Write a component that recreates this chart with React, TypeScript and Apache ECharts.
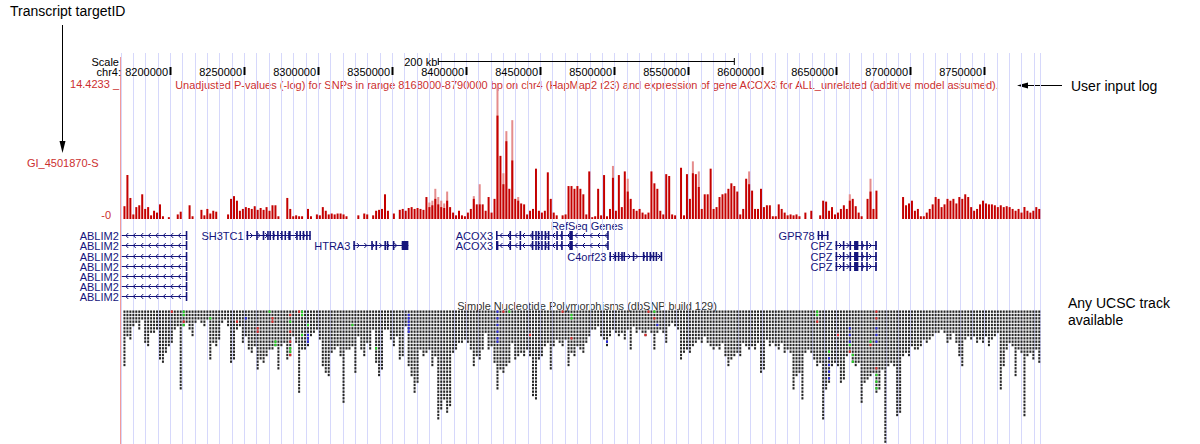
import React, { useEffect, useRef } from "react";
import * as echarts from "echarts";

const FONT = "'Liberation Sans', Arial, Helvetica, sans-serif";
const RED = "#cc2f2f";
const BAR_DARK = "#c40000";
const BAR_LIGHT = "#e58c8c";
const NAVY = "#14147c";
const GUIDE_COLOR = "#d6d8fb";
const SNP_COLOR = "#262626";

// ---- genome window (bp) ----
const GUIDE_BP = 25000 / 3;
const X_MIN = 980 * GUIDE_BP;
const GUIDE_COUNT = 74.5;
const X_MAX = X_MIN + GUIDE_COUNT * GUIDE_BP;

// ---- ruler ----
const positionTicks = [8200000, 8250000, 8300000, 8350000, 8400000, 8450000, 8500000, 8550000, 8600000, 8650000, 8700000, 8750000];
const scaleBar = [8381000, 8581000];
const scaleBarLabel = "200 kb";

// ---- p-value wiggle track (fixed step) ----
const pvalStart = 8168000;
const pvalStep = 2000;
const pvalTop = 14.4233;
const pvalMean = [
  1.4, 4.8, 2.3, 0.5, 1.3, 1.5, 2.7, 1.1, 1.3, 0.4,
  0.9, 0.7, 1.6, 0.3, 0, 0.2, 0, 0, 0.5, 0.8,
  0, 0, 1.5, 0.3, 0, 0, 1.0, 0.4, 1.1, 0.6,
  0.9, 0.8, 0, 0, 0, 0.5, 2.2, 2.5, 2.0, 0.9,
  1.1, 1.3, 1.2, 1.1, 1.4, 1.0, 1.2, 1.0, 1.3, 0.9,
  1.5, 1.5, 0.3, 0, 0, 2.3, 1.1, 0.3, 0.4, 0.3,
  0.3, 0, 1.1, 0.3, 0, 0.5, 0.4, 1.3, 0.9, 0.5,
  0.6, 0.5, 0.6, 0.6, 0.5, 0.3, 0, 0, 0, 0.4,
  0, 0.6, 0.5, 0, 0.4, 0.9, 1.0, 1.1, 2.7, 0.9,
  0, 0.6, 0, 1.0, 1.1, 0.9, 1.2, 1.3, 1.1, 1.2,
  1.1, 1.0, 2.4, 1.3, 1.5, 2.2, 1.6, 1.3, 1.2, 2.0,
  1.3, 0.7, 0.4, 0.9, 0.4, 0.3, 0.7, 1.1, 2.2, 1.6,
  1.6, 1.6, 0.9, 2.4, 0.7, 2.2, 11.3, 6.9, 3.8, 8.5,
  3.3, 6.4, 2.2, 2.0, 1.7, 1.6, 0.5, 0.9, 1.1, 5.5,
  0.9, 0.7, 0.9, 5.1, 2.2, 0.7, 0.4, 0, 0.4, 0.5,
  3.6, 3.6, 3.3, 3.6, 3.3, 2.7, 0.5, 5.2, 0.2, 0.3,
  3.3, 0.4, 4.8, 0.3, 1.1, 4.5, 0.9, 4.8, 1.3, 5.2,
  3.0, 2.2, 1.1, 0.9, 1.1, 0.7, 0.5, 0.7, 5.2, 3.9,
  3.3, 0.9, 0.5, 4.9, 4.7, 0.5, 0.4, 0, 5.6, 0.4,
  4.9, 2.2, 5.0, 4.9, 3.5, 1.1, 2.7, 2.7, 5.5, 1.1,
  1.3, 2.4, 2.7, 2.8, 3.3, 3.9, 3.6, 3.0, 0.5, 1.1,
  4.4, 3.8, 3.1, 1.1, 1.1, 3.3, 1.3, 1.5, 1.5, 0.3,
  0.3, 1.6, 1.1, 0.7, 0.4, 0.5, 0.4, 0.5, 0.3, 0,
  0.7, 0, 0.9, 0, 0, 0.4, 2.0, 1.9, 0.9, 1.3,
  0.5, 0.7, 1.1, 1.5, 1.1, 2.0, 2.2, 1.4, 0.7, 0.3,
  0, 2.2, 3.0, 1.1, 3.1, 0, 0, 0, 0, 0,
  0, 0, 0, 2.4, 1.5, 1.7, 2.0, 0.9, 1.1, 0.3,
  0.3, 0.7, 1.1, 1.6, 2.4, 2.2, 1.3, 1.6, 2.2, 2.0,
  2.2, 1.7, 2.4, 2.2, 2.7, 2.4, 1.3, 0.9, 1.1, 1.6,
  2.0, 1.7, 1.6, 1.6, 1.5, 1.3, 1.5, 1.3, 1.4, 1.3,
  1.1, 0.9, 1.1, 0.7, 1.3, 0.9, 0.7, 0.9, 1.3, 1.1, 0,
];
// bins whose maximum rises above the mean (lighter top)
const pvalMaxBins = [
  [103, 1.8], [104, 2.0], [105, 3.3], [106, 2.4], [107, 2.0], [108, 1.7], [109, 3.0],
  [118, 2.5], [120, 3.8], [126, 14.42], [128, 5.0], [129, 9.6], [131, 10.8], [133, 2.4],
  [165, 5.8], [170, 4.4], [192, 6.3], [194, 5.2], [211, 5.2], [245, 2.7], [252, 4.4],
];

// ---- RefSeq genes (kb) ----
const geneNames = ["ABLIM2", "ABLIM2", "ABLIM2", "ABLIM2", "ABLIM2", "ABLIM2", "ABLIM2", "SH3TC1", "HTRA3", "ACOX3", "ACOX3", "C4orf23", "GPR78", "CPZ", "CPZ", "CPZ"];
const geneRows = [0, 1, 2, 3, 4, 5, 6, 0, 1, 0, 1, 2, 0, 1, 2, 3];
const geneStrand = ["-", "-", "-", "-", "-", "-", "-", "+", "+", "-", "-", "+", "+", "+", "+", "+"];
const geneStartKb = [8167.2, 8167.2, 8167.2, 8167.2, 8167.2, 8167.2, 8167.2, 8251.5, 8323.6, 8420.0, 8420.0, 8496.6, 8637.3, 8649.4, 8649.4, 8649.4];
const geneEndKb = [8211.3, 8211.3, 8211.3, 8211.3, 8211.3, 8211.3, 8211.3, 8294.6, 8360.8, 8495.9, 8495.9, 8532.0, 8644.6, 8677.3, 8677.3, 8677.3];
const ablim2Exons = [[8210.4, 8211.3]];
const acox3Exons = [[8420.0, 8420.9], [8429.1, 8429.9], [8435.9, 8436.7], [8444.2, 8445.2], [8446.5, 8447.3], [8448.2, 8449.0], [8450.5, 8451.3], [8452.8, 8453.6], [8455.0, 8455.8], [8460.7, 8461.5], [8464.0, 8464.8], [8469.6, 8471.9], [8495.1, 8495.9]];
const cpzExons = [[8649.4, 8650.2], [8654.3, 8655.1], [8658.8, 8659.6], [8661.9, 8664.8], [8666.7, 8667.5], [8670.1, 8670.9], [8676.1, 8677.3]];
const geneExonsKb = [
  ablim2Exons, ablim2Exons, ablim2Exons, ablim2Exons, ablim2Exons, ablim2Exons, ablim2Exons,
  [[8251.5, 8252.3], [8258.0, 8258.8], [8262.4, 8263.2], [8265.4, 8266.2], [8266.9, 8267.7], [8269.2, 8270.0], [8272.1, 8272.9], [8274.8, 8275.6], [8277.1, 8277.9], [8279.7, 8281.3], [8285.0, 8285.8], [8287.2, 8288.0], [8289.4, 8290.2], [8291.7, 8292.5], [8293.8, 8294.6]],
  [[8323.6, 8324.4], [8335.7, 8336.5], [8338.6, 8339.4], [8344.6, 8345.4], [8346.2, 8347.0], [8350.3, 8351.1], [8356.3, 8360.8]],
  acox3Exons,
  [[8420.0, 8421.6], ...acox3Exons.slice(1)],
  [[8496.6, 8497.4], [8500.1, 8500.9], [8502.3, 8503.1], [8504.6, 8505.4], [8506.1, 8506.9], [8512.4, 8513.2], [8519.2, 8520.0], [8521.5, 8522.3], [8523.7, 8524.5], [8525.9, 8526.7], [8527.8, 8528.6], [8531.2, 8532.0]],
  [[8637.3, 8638.1], [8639.7, 8640.5], [8643.5, 8644.6]],
  cpzExons, cpzExons, cpzExons,
];

// ---- dbSNP 129: stacked SNPs per 2 kb bin (rows) ----
const snpDepth = [
  17, 8, 9, 5, 4, 6, 3, 10, 11, 7,
  7, 6, 15, 16, 13, 11, 10, 6, 5, 24,
  5, 4, 6, 8, 4, 3, 4, 5, 3, 15,
  10, 11, 9, 4, 3, 5, 16, 15, 6, 5,
  10, 8, 12, 13, 11, 18, 15, 16, 14, 12,
  12, 11, 18, 11, 10, 15, 14, 8, 10, 25,
  12, 12, 11, 8, 7, 6, 9, 17, 19, 20,
  13, 12, 11, 14, 28, 12, 12, 11, 19, 8,
  12, 14, 10, 12, 6, 16, 20, 18, 6, 6,
  9, 11, 8, 15, 14, 5, 17, 20, 25, 22,
  12, 14, 13, 12, 17, 14, 33, 30, 27, 31,
  29, 13, 12, 10, 10, 9, 10, 12, 17, 14,
  15, 12, 7, 12, 11, 16, 24, 18, 19, 17,
  16, 10, 15, 14, 13, 14, 12, 14, 26, 27,
  15, 14, 11, 10, 18, 11, 9, 10, 11, 9,
  17, 13, 14, 11, 12, 13, 10, 8, 6, 6,
  5, 8, 9, 11, 8, 6, 7, 8, 7, 9,
  6, 12, 5, 7, 6, 7, 8, 6, 7, 12,
  7, 6, 7, 10, 5, 4, 5, 6, 15, 13,
  12, 13, 11, 10, 9, 10, 8, 10, 11, 12,
  11, 12, 10, 14, 17, 15, 14, 13, 14, 10,
  11, 12, 11, 12, 10, 19, 18, 9, 11, 10,
  11, 12, 10, 13, 12, 13, 24, 20, 19, 27,
  13, 12, 13, 15, 17, 16, 33, 24, 22, 17,
  16, 17, 22, 21, 14, 13, 16, 17, 16, 28,
  22, 21, 20, 19, 25, 24, 18, 40, 17, 16,
  17, 32, 31, 14, 13, 14, 11, 12, 12, 11,
  9, 10, 9, 8, 7, 7, 6, 7, 10, 9,
  7, 10, 14, 17, 9, 8, 9, 8, 10, 9,
  10, 8, 11, 9, 8, 7, 24, 17, 12, 10,
  11, 20, 12, 13, 32, 14, 13, 15, 12, 16, 0,
];
const snpClassColors = ["#e02424", "#22d622", "#2828e0"];
// [bin, row, class] for coloured SNPs (0 red, 1 green, 2 blue)
const snpColored = [
  [16, 0, 0], [20, 0, 1], [20, 1, 1], [20, 3, 0], [20, 4, 1], [29, 2, 1], [38, 3, 0], [41, 2, 2],
  [45, 5, 0], [45, 6, 0], [49, 0, 1], [50, 2, 0], [50, 3, 0], [51, 9, 1], [51, 10, 1],
  [56, 1, 0], [56, 3, 1], [56, 6, 0], [56, 9, 0], [56, 11, 1], [56, 12, 1], [56, 13, 0],
  [59, 0, 0], [60, 0, 1], [60, 1, 1], [60, 7, 1], [62, 4, 1], [62, 7, 2], [62, 8, 2], [62, 9, 2],
  [77, 4, 1], [85, 11, 1], [96, 1, 2], [96, 2, 2], [96, 3, 2], [96, 4, 2], [96, 5, 2], [96, 6, 2],
  [126, 0, 2], [126, 2, 2], [126, 4, 2], [126, 6, 2], [126, 8, 2], [126, 9, 2], [128, 0, 0], [130, 0, 1],
  [137, 7, 0], [148, 0, 0], [151, 1, 1], [151, 2, 1], [151, 8, 0], [163, 9, 2], [176, 7, 0],
  [177, 0, 0], [179, 0, 1], [179, 2, 0], [180, 4, 2], [234, 0, 1], [234, 1, 1], [234, 3, 0],
  [238, 12, 1], [238, 14, 2], [238, 16, 2], [238, 18, 2], [238, 20, 2], [241, 7, 0],
  [245, 5, 2], [245, 7, 2], [245, 9, 2], [245, 10, 1], [245, 12, 0], [246, 13, 1], [246, 15, 1],
  [252, 9, 1], [252, 10, 0], [254, 0, 0], [254, 2, 0], [254, 5, 2], [254, 7, 2], [254, 9, 2],
  [254, 17, 0], [254, 19, 1], [254, 21, 1], [254, 23, 1],
];

const trackTitle = "Unadjusted P-values (-log) for SNPs in range 8168000-8790000 bp on chr4 (HapMap2 r23) and expression of gene ACOX3 for ALL_unrelated (additive model assumed).";

const binCenter = (i: number) => pvalStart + pvalStep * i + pvalStep / 2;

function buildOption(): any {
  const hiddenX = (gridIndex: number) => ({ type: "value", gridIndex, min: X_MIN, max: X_MAX, show: false });
  const txt = (text: string, x: number, y: number, opts: any = {}) => ({
    type: "text",
    x,
    y,
    silent: true,
    style: {
      text,
      fill: opts.fill || "#000",
      fontSize: opts.size || 11,
      fontFamily: FONT,
      align: opts.align || "left",
      verticalAlign: "middle",
    },
  });

  const darkData = pvalMean.map((v, i) => [binCenter(i), v]).filter((d) => d[1] > 0);
  const lightData = pvalMaxBins.map(([i, v]) => [binCenter(i), v]);
  const geneData = geneNames.map((_, g) => [geneStartKb[g] * 1000, geneEndKb[g] * 1000, geneRows[g] + 0.5, g]);
  const snpData = snpDepth.map((d, i) => [binCenter(i), d]).filter((d) => d[1] > 0);
  const snpColorData = snpColored.map(([b, r]) => [binCenter(b), r]);

  return {
    animation: false,
    backgroundColor: "#fff",
    grid: [
      { left: 121, width: 919, top: 87, height: 132 },
      { left: 121, width: 919, top: 230, height: 71.4 },
      { left: 121, width: 919, top: 310, height: 133.3 },
      { left: 121, width: 919, top: 53, height: 391 },
      { left: 121, width: 919, top: 55, height: 25 },
    ],
    xAxis: [
      hiddenX(0),
      hiddenX(1),
      hiddenX(2),
      {
        type: "value",
        gridIndex: 3,
        min: 0,
        max: GUIDE_COUNT,
        interval: 1,
        axisLine: { show: false },
        axisTick: { show: false },
        axisLabel: { show: false },
        splitLine: { show: true, lineStyle: { color: GUIDE_COLOR, width: 1 } },
      },
      hiddenX(4),
    ],
    yAxis: [
      { type: "value", gridIndex: 0, min: 0, max: pvalTop, show: false },
      { type: "value", gridIndex: 1, min: 0, max: 7, inverse: true, show: false },
      { type: "value", gridIndex: 2, min: 0, max: 40, inverse: true, show: false },
      { type: "value", gridIndex: 3, min: 0, max: 1, show: false },
      { type: "value", gridIndex: 4, min: 0, max: 1, show: false },
    ],
    series: [
      {
        type: "bar",
        name: "max",
        xAxisIndex: 0,
        yAxisIndex: 0,
        data: lightData,
        barWidth: 2,
        barGap: "-100%",
        itemStyle: { color: BAR_LIGHT },
        silent: true,
        z: 2,
      },
      {
        type: "bar",
        name: "mean",
        xAxisIndex: 0,
        yAxisIndex: 0,
        data: darkData,
        barWidth: 2,
        barGap: "-100%",
        itemStyle: { color: BAR_DARK },
        silent: true,
        z: 3,
      },
      {
        type: "custom",
        name: "RefSeq Genes",
        xAxisIndex: 1,
        yAxisIndex: 1,
        clip: false,
        silent: true,
        encode: { x: [0, 1], y: 2 },
        data: geneData,
        renderItem: (params: any, api: any) => {
          const g = api.value(3);
          const [x0, yc] = api.coord([api.value(0), api.value(2)]);
          const [x1] = api.coord([api.value(1), api.value(2)]);
          const y = Math.round(yc) + 0.5;
          const children: any[] = [];
          children.push({ type: "line", shape: { x1: x0, y1: y, x2: x1, y2: y }, style: { stroke: NAVY, lineWidth: 1 } });
          const dir = geneStrand[g] === "+" ? 1 : -1;
          for (let x = x0 + 5; x < x1 - 2; x += 7.5) {
            children.push({
              type: "polyline",
              shape: { points: [[x - dir * 1.5, y - 2.5], [x + dir * 1, y], [x - dir * 1.5, y + 2.5]] },
              style: { stroke: NAVY, fill: "none", lineWidth: 1 },
            });
          }
          for (const [s, e] of geneExonsKb[g]) {
            const [ex0] = api.coord([s * 1000, 0]);
            const [ex1] = api.coord([e * 1000, 0]);
            children.push({ type: "rect", shape: { x: ex0, y: y - 4.5, width: Math.max(1.6, ex1 - ex0), height: 9 }, style: { fill: NAVY } });
          }
          children.push({
            type: "text",
            style: { text: geneNames[g], x: x0 - 3, y: y, align: "right", verticalAlign: "middle", fill: NAVY, fontSize: 11, fontFamily: FONT },
          });
          return { type: "group", children };
        },
        z: 3,
      },
      {
        type: "custom",
        name: "dbSNP",
        xAxisIndex: 2,
        yAxisIndex: 2,
        silent: true,
        clip: false,
        encode: { x: 0, y: 1 },
        data: snpData,
        renderItem: (params: any, api: any) => {
          const depth = api.value(1);
          const [cx, top] = api.coord([api.value(0), 0]);
          const rowH = api.size([0, 1])[1];
          const children: any[] = [];
          for (let r = 0; r < depth; r++) {
            children.push({ type: "rect", shape: { x: cx - 1, y: top + r * rowH + 0.5, width: 2, height: rowH - 1 }, style: { fill: SNP_COLOR } });
          }
          return { type: "group", children };
        },
        z: 3,
      },
      {
        type: "custom",
        name: "dbSNP class",
        xAxisIndex: 2,
        yAxisIndex: 2,
        silent: true,
        clip: false,
        encode: { x: 0, y: 1 },
        data: snpColorData,
        renderItem: (params: any, api: any) => {
          const cls = snpColored[params.dataIndex][2];
          const [cx, top] = api.coord([api.value(0), api.value(1)]);
          const rowH = api.size([0, 1])[1];
          return { type: "rect", shape: { x: cx - 1, y: top + 0.5, width: 2, height: rowH - 1 }, style: { fill: snpClassColors[cls] } };
        },
        z: 4,
      },
      {
        type: "custom",
        name: "ruler",
        xAxisIndex: 4,
        yAxisIndex: 4,
        silent: true,
        clip: false,
        encode: { x: 0 },
        data: positionTicks.map((p) => [p]),
        renderItem: (params: any, api: any) => {
          const [x] = api.coord([api.value(0), 0]);
          const yTop = params.coordSys.y;
          return {
            type: "group",
            children: [
              { type: "rect", shape: { x: Math.round(x) - 0.5, y: yTop + 12, width: 2, height: 8 }, style: { fill: "#000" } },
              { type: "text", style: { text: String(api.value(0)), x: Math.round(x) - 2, y: yTop + 17, align: "right", verticalAlign: "middle", fill: "#000", fontSize: 11, fontFamily: FONT } },
            ],
          };
        },
        z: 4,
      },
      {
        type: "custom",
        name: "scale bar",
        xAxisIndex: 4,
        yAxisIndex: 4,
        silent: true,
        clip: false,
        encode: { x: [0, 1] },
        data: [scaleBar],
        renderItem: (params: any, api: any) => {
          const [x0] = api.coord([api.value(0), 0]);
          const [x1] = api.coord([api.value(1), 0]);
          const y = params.coordSys.y + 6.5;
          return {
            type: "group",
            children: [
              { type: "line", shape: { x1: x0, y1: y, x2: x1, y2: y }, style: { stroke: "#000", lineWidth: 1 } },
              { type: "line", shape: { x1: x0, y1: y - 3.5, x2: x0, y2: y + 3.5 }, style: { stroke: "#000", lineWidth: 1 } },
              { type: "line", shape: { x1: x1, y1: y - 3.5, x2: x1, y2: y + 3.5 }, style: { stroke: "#000", lineWidth: 1 } },
              { type: "text", style: { text: scaleBarLabel, x: x0 - 1, y: y, align: "right", verticalAlign: "middle", fill: "#000", fontSize: 11, fontFamily: FONT } },
            ],
          };
        },
        z: 4,
      },
    ],
    graphic: [
      txt("Transcript targetID", 10, 11, { size: 14 }),
      { type: "line", silent: true, shape: { x1: 62.5, y1: 25, x2: 62.5, y2: 145 }, style: { stroke: "#000", lineWidth: 1 } },
      { type: "polygon", silent: true, shape: { points: [[62.5, 153], [59.5, 141], [65.5, 141]] }, style: { fill: "#000" } },
      txt("GI_4501870-S", 27, 163, { fill: RED }),
      txt("Scale", 119, 62, { align: "right" }),
      txt("chr4:", 121, 72, { align: "right" }),
      txt("14.4233 _", 119, 84, { align: "right", fill: RED }),
      txt("-0", 111, 215, { align: "right", fill: RED }),
      txt(trackTitle, 587, 85, { align: "center", fill: RED }),
      { type: "line", silent: true, shape: { x1: 1024, y1: 85.5, x2: 1062, y2: 85.5 }, style: { stroke: "#000", lineWidth: 1 } },
      { type: "polygon", silent: true, shape: { points: [[1017, 85.5], [1028, 82.5], [1028, 88.5]] }, style: { fill: "#000" } },
      txt("User input log", 1071, 86, { size: 14 }),
      txt("RefSeq Genes", 587, 226, { align: "center", fill: NAVY }),
      txt("Simple Nucleotide Polymorphisms (dbSNP build 129)", 587, 306, { align: "center", fill: "#333" }),
      txt("Any UCSC track", 1068, 303, { size: 14 }),
      txt("available", 1068, 320, { size: 14 }),
      { type: "line", silent: true, z: -1, shape: { x1: 120.5, y1: 57, x2: 120.5, y2: 444 }, style: { stroke: "#f29a9a", lineWidth: 1 } },
    ],
  };
}

export default function App() {
  const ref = useRef<HTMLDivElement>(null);
  useEffect(() => {
    document.body.style.margin = "0";
    const chart = echarts.init(ref.current as HTMLDivElement, null, { renderer: "svg" });
    chart.setOption(buildOption());
    return () => chart.dispose();
  }, []);
  return <div ref={ref} style={{ width: 1200, height: 444 }} />;
}
